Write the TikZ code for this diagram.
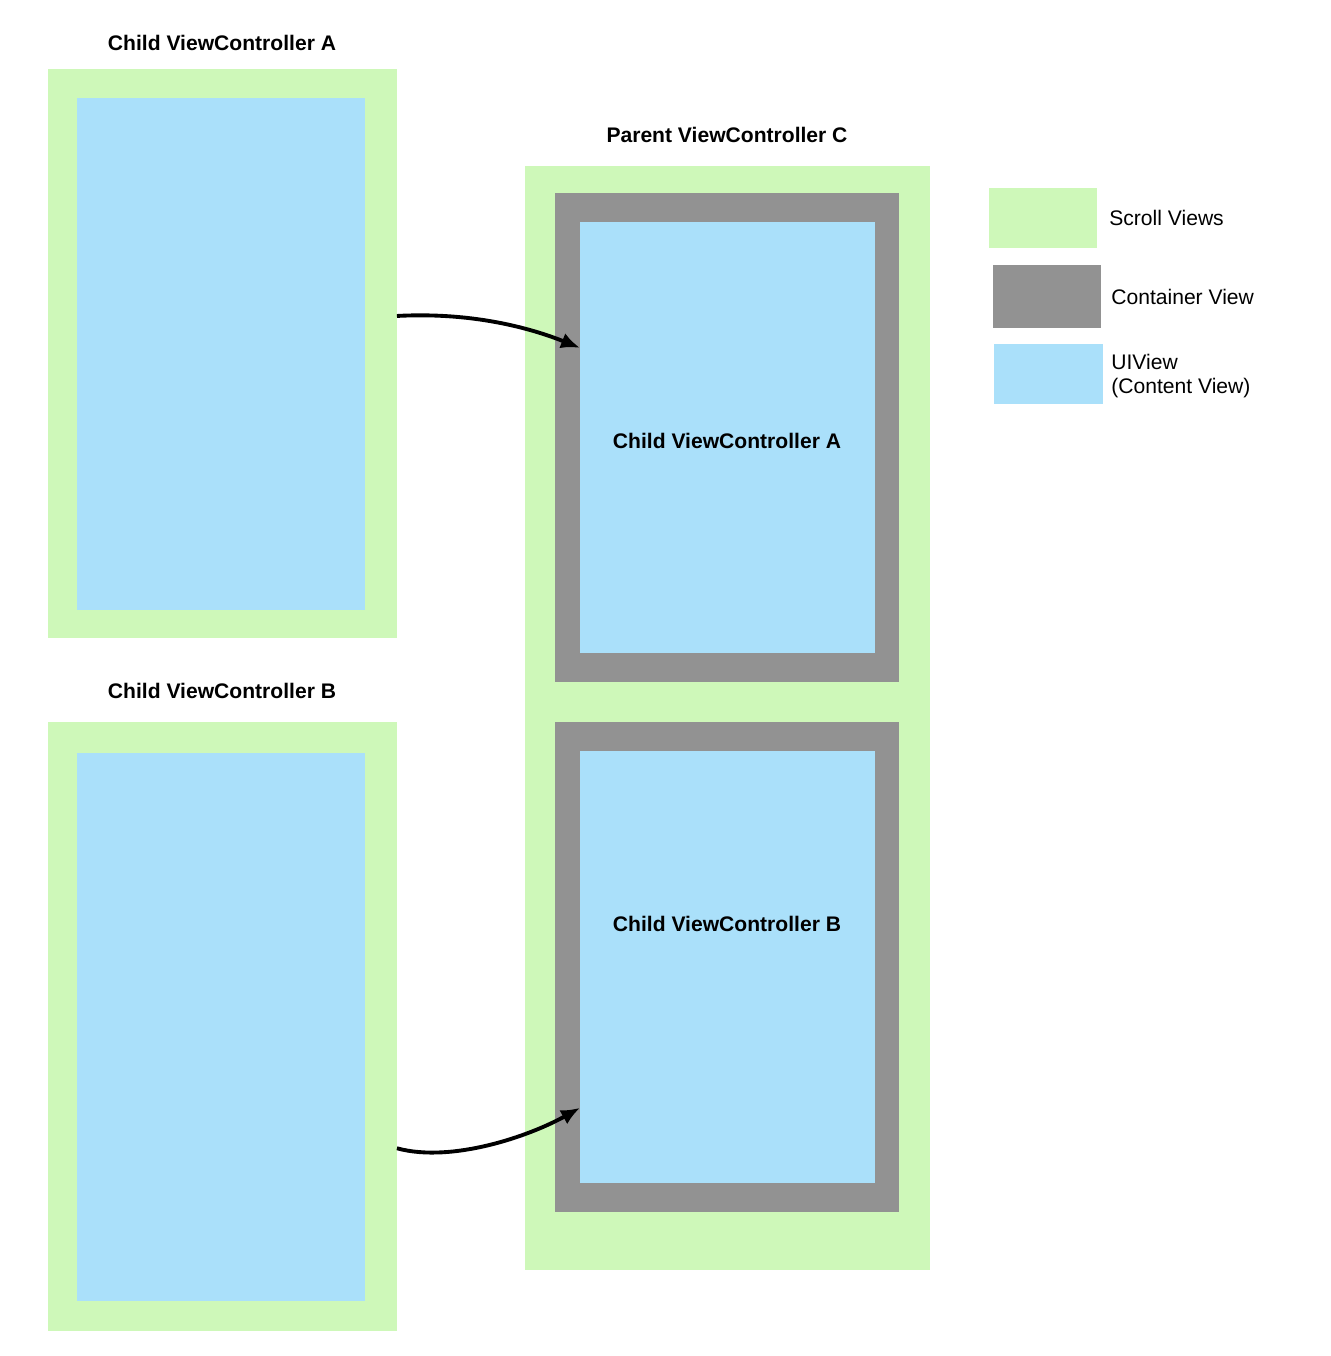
\documentclass[tikz,border=0pt]{standalone}
\usepackage{fontspec}
\setmainfont{Liberation Sans}
\usetikzlibrary{positioning,calc,arrows.meta}
\definecolor{scrollgreen}{RGB}{206,248,185}
\definecolor{containergray}{RGB}{146,146,146}
\definecolor{contentblue}{RGB}{170,224,250}
\tikzset{
  viewbox/.style={rectangle,inner sep=0pt,outer sep=0pt},
  scrollbox/.style={viewbox,fill=scrollgreen},
  containerbox/.style={viewbox,fill=containergray},
  contentbox/.style={viewbox,fill=contentblue},
  title/.style={font=\fontsize{12}{14}\selectfont\bfseries},
  legendtext/.style={font=\fontsize{12}{14}\selectfont,anchor=west,align=left,inner sep=0pt},
  embed/.style={line width=2.2pt,-{Latex[length=3.8mm,width=3.2mm]}}
}
\begin{document}
\begin{tikzpicture}[x=0.02cm,y=-0.02cm]
\useasboundingbox (0,0) rectangle (1330,1356);
% child view controllers on the left
\node[title] (titleA) at (222,43) {Child ViewController A};
\node[scrollbox,minimum width=6.98cm,minimum height=11.38cm] (childA) at (222.5,353.5) {};
\node[contentbox,minimum width=5.76cm,minimum height=10.24cm] (childAview) at (221,354) {};
\node[title] (titleB) at (222,691) {Child ViewController B};
\node[scrollbox,minimum width=6.98cm,minimum height=12.18cm] (childB) at (222.5,1026.5) {};
\node[contentbox,minimum width=5.76cm,minimum height=10.96cm] (childBview) at (221,1027) {};
% parent view controller
\node[title] (titleC) at (727,135) {Parent ViewController C};
\node[scrollbox,minimum width=8.1cm,minimum height=22.08cm] (parent) at (727.5,718) {};
\node[containerbox,minimum width=6.88cm,minimum height=9.78cm] (containerA) at (727,437.5) {};
\node[contentbox,minimum width=5.9cm,minimum height=8.62cm] (contentA) at (727.5,437.5) {};
\node[title] (labelA) at (727,441) {Child ViewController A};
\node[containerbox,minimum width=6.88cm,minimum height=9.8cm] (containerB) at (727,967) {};
\node[contentbox,minimum width=5.9cm,minimum height=8.64cm] (contentB) at (727.5,967) {};
\node[title] (labelB) at (727,924) {Child ViewController B};
% legend
\node[scrollbox,minimum width=2.16cm,minimum height=1.2cm] (keyScroll) at (1043,218) {};
\node[legendtext] (keyScrollText) at (1109,218) {Scroll Views};
\node[containerbox,minimum width=2.16cm,minimum height=1.26cm] (keyContainer) at (1047,296.5) {};
\node[legendtext] (keyContainerText) at (1111,297) {Container View};
\node[contentbox,minimum width=2.18cm,minimum height=1.2cm] (keyContent) at (1048.5,374) {};
\node[legendtext] (keyContentText) at (1111,376) {UIView\\(Content View)};
% arrows
\coordinate (fromA) at ($(childA.north east)!0.434!(childA.south east)$);
\coordinate (toA) at ($(contentA.north west)!0.292!(contentA.south west)$);
\coordinate (fromB) at ($(childB.north east)!0.70!(childB.south east)$);
\coordinate (toB) at ($(contentB.north west)!0.826!(contentB.south west)$);
\draw[embed] (fromA) .. controls ($(fromA)+(75,-4)$) and ($(toA)+(-50,-20)$) .. (toA);
\draw[embed] (fromB) .. controls ($(fromB)+(55,15)$) and ($(toB)+(-50,28)$) .. (toB);
\end{tikzpicture}
\end{document}
